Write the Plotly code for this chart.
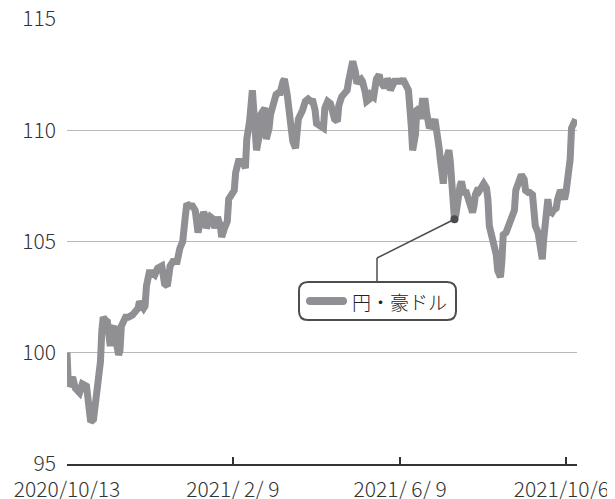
import plotly.graph_objects as go

# ---- data ----
dates = [
    "2020-10-13", "2020-10-14", "2020-10-15", "2020-10-17", "2020-10-19", "2020-10-22", "2020-10-24", "2020-10-27", "2020-10-29", "2020-10-30",
    "2020-11-01", "2020-11-02", "2020-11-04", "2020-11-05", "2020-11-06", "2020-11-07", "2020-11-08", "2020-11-09", "2020-11-11", "2020-11-12",
    "2020-11-13", "2020-11-14", "2020-11-16", "2020-11-17", "2020-11-19", "2020-11-20", "2020-11-21", "2020-11-24", "2020-11-26", "2020-11-29",
    "2020-12-01", "2020-12-03", "2020-12-04", "2020-12-07", "2020-12-08", "2020-12-09", "2020-12-11", "2020-12-13", "2020-12-15", "2020-12-17",
    "2020-12-20", "2020-12-22", "2020-12-24", "2020-12-26", "2020-12-28", "2020-12-31",
    "2021-01-02", "2021-01-04", "2021-01-06", "2021-01-07", "2021-01-09", "2021-01-11", "2021-01-13", "2021-01-15", "2021-01-17", "2021-01-19",
    "2021-01-20", "2021-01-21", "2021-01-24", "2021-01-26", "2021-01-27", "2021-01-29", "2021-01-31",
    "2021-02-01", "2021-02-03", "2021-02-05", "2021-02-06", "2021-02-08", "2021-02-10", "2021-02-11", "2021-02-13", "2021-02-15", "2021-02-16",
    "2021-02-18", "2021-02-19", "2021-02-21", "2021-02-22", "2021-02-23", "2021-02-25", "2021-02-26", "2021-02-28",
    "2021-03-01", "2021-03-03", "2021-03-04", "2021-03-05", "2021-03-07", "2021-03-08", "2021-03-10", "2021-03-12", "2021-03-14", "2021-03-15",
    "2021-03-17", "2021-03-18", "2021-03-20", "2021-03-21", "2021-03-23", "2021-03-24", "2021-03-26", "2021-03-27", "2021-03-28", "2021-03-31",
    "2021-04-02", "2021-04-04", "2021-04-06", "2021-04-07", "2021-04-09", "2021-04-10", "2021-04-12", "2021-04-15", "2021-04-16", "2021-04-18",
    "2021-04-20", "2021-04-21", "2021-04-23", "2021-04-25", "2021-04-26", "2021-04-28", "2021-04-30",
    "2021-05-02", "2021-05-03", "2021-05-05", "2021-05-06", "2021-05-08", "2021-05-09", "2021-05-10", "2021-05-12", "2021-05-13", "2021-05-15",
    "2021-05-16", "2021-05-18", "2021-05-19", "2021-05-21", "2021-05-22", "2021-05-23", "2021-05-25", "2021-05-26", "2021-05-28", "2021-05-29", "2021-05-31",
    "2021-06-01", "2021-06-02", "2021-06-04", "2021-06-05", "2021-06-07", "2021-06-08", "2021-06-10", "2021-06-11", "2021-06-12", "2021-06-14",
    "2021-06-15", "2021-06-17", "2021-06-18", "2021-06-20", "2021-06-21", "2021-06-23", "2021-06-24", "2021-06-25", "2021-06-27", "2021-06-28", "2021-06-30",
    "2021-07-01", "2021-07-03", "2021-07-04", "2021-07-05", "2021-07-07", "2021-07-08", "2021-07-10", "2021-07-11", "2021-07-13", "2021-07-14",
    "2021-07-15", "2021-07-16", "2021-07-17", "2021-07-18", "2021-07-19", "2021-07-20", "2021-07-22", "2021-07-23", "2021-07-25", "2021-07-26",
    "2021-07-28", "2021-07-29", "2021-07-31",
    "2021-08-01", "2021-08-02", "2021-08-04", "2021-08-05", "2021-08-07", "2021-08-08", "2021-08-10", "2021-08-11", "2021-08-12", "2021-08-14",
    "2021-08-15", "2021-08-17", "2021-08-18", "2021-08-20", "2021-08-21", "2021-08-22", "2021-08-24", "2021-08-25", "2021-08-27", "2021-08-28",
    "2021-08-30", "2021-08-31",
    "2021-09-02", "2021-09-03", "2021-09-04", "2021-09-06", "2021-09-07", "2021-09-09", "2021-09-10", "2021-09-12", "2021-09-13", "2021-09-14",
    "2021-09-16", "2021-09-17", "2021-09-19", "2021-09-20", "2021-09-22", "2021-09-23", "2021-09-24", "2021-09-26", "2021-09-27", "2021-09-29", "2021-09-30",
    "2021-10-02", "2021-10-03", "2021-10-05", "2021-10-06", "2021-10-07", "2021-10-09", "2021-10-10", "2021-10-12", "2021-10-13",
]

values = [
    # Oct 2020
    100.0, 98.5, 98.6, 98.9, 98.4, 98.2, 98.6, 98.5, 97.6, 96.9,
    # Nov
    97.0, 97.6, 98.5, 99.4, 99.6, 101.0, 101.6, 101.5, 101.4, 100.6,
    100.3, 101.0, 101.2, 100.6, 99.9, 100.1, 101.2, 101.6, 101.6, 101.7,
    # Dec
    101.8, 102.0, 102.3, 102.0, 102.1, 103.0, 103.6, 103.6, 103.5, 103.8,
    103.9, 103.1, 103.0, 103.9, 104.1, 104.1,
    # Jan 2021
    104.7, 105.0, 106.2, 106.7, 106.6, 106.6, 106.4, 105.4, 106.0, 106.3,
    106.2, 105.6, 106.1, 106.0, 105.6, 106.1, 105.7,
    # Feb
    105.2, 105.6, 105.9, 106.9, 107.2, 107.3, 108.1, 108.6, 108.6, 108.6,
    108.3, 109.6, 110.4, 111.3, 111.8, 110.0, 109.1, 109.8,
    # Mar
    110.7, 110.9, 111.0, 109.6, 110.1, 110.7, 111.1, 111.6, 111.7, 111.7,
    112.2, 112.3, 111.6, 111.1, 110.4, 109.5, 109.2, 110.1, 110.5, 110.9,
    # Apr
    111.3, 111.4, 111.3, 111.4, 110.9, 110.3, 110.2, 110.1, 111.0, 111.3,
    111.2, 111.0, 110.5, 110.4, 111.1, 111.5, 111.7,
    # May
    111.8, 112.2, 112.9, 113.1, 112.6, 112.1, 112.2, 112.3, 112.2, 111.7,
    111.3, 111.4, 111.6, 111.5, 111.9, 112.3, 112.5, 112.2, 112.0, 112.0, 112.3,
    # Jun
    112.2, 111.8, 112.1, 112.2, 112.2, 112.2, 112.2, 112.3, 112.2, 112.0,
    111.8, 110.2, 109.1, 109.8, 110.9, 111.0, 110.5, 111.3, 111.3, 110.8, 110.1,
    # Jul
    110.2, 110.3, 110.5, 109.8, 109.2, 108.6, 107.6, 108.4, 109.0, 109.1,
    108.6, 107.8, 106.6, 106.0, 106.2, 106.9, 107.5, 107.7, 107.1, 107.3,
    106.9, 106.6, 106.3,
    # Aug
    106.6, 107.1, 107.4, 107.3, 107.5, 107.6, 107.4, 106.9, 105.7, 105.1,
    105.0, 104.4, 103.7, 103.4, 104.1, 105.3, 105.4, 105.6, 105.9, 106.1,
    106.4, 107.3,
    # Sep
    107.7, 107.9, 108.0, 107.8, 107.3, 107.2, 107.2, 107.1, 106.4, 105.7,
    105.4, 104.8, 104.2, 105.1, 106.4, 106.9, 106.4, 106.3, 106.4, 106.5, 106.9,
    # Oct 2021
    107.3, 107.2, 106.9, 107.2, 107.8, 108.7, 110.1, 110.5, 110.5,
]
assert len(dates) == len(values)

series_name = "円・豪ドル"
y_ticks = [95, 100, 105, 110, 115]
x_tick_dates = ["2020-10-13", "2021-02-09", "2021-06-09", "2021-10-06"]
x_tick_labels = ["2020/10/13", "2021/\u00a02/\u00a09", "2021/\u00a06/\u00a09", "2021/10/6\u00a0\u00a0"]
callout_date = "2021-07-18"

# ---- layout geometry (page pixels; the page body adds an 8px offset) ----
OFF = 8
W, H = 615 - OFF, 499 - OFF
PLOT_L, PLOT_R, PLOT_T, PLOT_B = 67, 577, 19, 464
ML, MT = PLOT_L - OFF, PLOT_T - OFF
PW, PH = PLOT_R - PLOT_L, PLOT_B - PLOT_T
MR, MB = W - ML - PW, H - MT - PH


def px(x):
    return (x - PLOT_L) / PW


def py(y):
    return (PLOT_B - y) / PH


LINE_COLOR = "#8f8f94"
DARK = "#4d4d4d"
FONT = "Noto Sans CJK JP Light, Noto Sans CJK JP DemiLight, Noto Sans CJK JP"

fig = go.Figure()
fig.add_trace(go.Scatter(
    x=dates, y=values, mode="lines",
    line=dict(color=LINE_COLOR, width=7),
    name=series_name, showlegend=False, hoverinfo="skip",
))

ci = dates.index(callout_date)
fig.add_trace(go.Scatter(
    x=[dates[ci]], y=[values[ci]], mode="markers",
    marker=dict(color=DARK, size=8), showlegend=False, hoverinfo="skip",
))

shapes = []
bend_x, bend_y, box_top = 377, 258, 282
shapes.append(dict(type="line", xref="x", yref="y",
                   x0=dates[ci], y0=values[ci],
                   x1="2021-05-23 10:00", y1=95 + (PLOT_B - bend_y) / (PH / 20),
                   line=dict(color=DARK, width=1.5)))
shapes.append(dict(type="line", xref="paper", yref="paper",
                   x0=px(bend_x), y0=py(bend_y), x1=px(bend_x), y1=py(box_top),
                   line=dict(color=DARK, width=1.5)))


def rounded_rect(x0, y0, x1, y1, r):
    rx, ry = r / PW, r / PH
    X0, X1 = px(x0), px(x1)
    Yt, Yb = py(y0), py(y1)
    return (f"M {X0+rx},{Yt} L {X1-rx},{Yt} Q {X1},{Yt} {X1},{Yt-ry} "
            f"L {X1},{Yb+ry} Q {X1},{Yb} {X1-rx},{Yb} "
            f"L {X0+rx},{Yb} Q {X0},{Yb} {X0},{Yb+ry} "
            f"L {X0},{Yt-ry} Q {X0},{Yt} {X0+rx},{Yt} Z")


shapes.append(dict(type="path", xref="paper", yref="paper",
                   path=rounded_rect(299, 282, 456, 320, 9),
                   line=dict(color=DARK, width=2), fillcolor="white"))
shapes.append(dict(type="path", xref="paper", yref="paper",
                   path=rounded_rect(306, 297, 347, 305, 4),
                   line=dict(color=LINE_COLOR, width=0), fillcolor=LINE_COLOR))

fig.update_layout(
    width=W, height=H,
    margin=dict(l=ML, r=MR, t=MT, b=MB),
    paper_bgcolor="white", plot_bgcolor="white",
    font=dict(family=FONT, color="#333333"),
    shapes=shapes,
    annotations=[dict(
        xref="paper", yref="paper", x=px(351), y=py(301),
        xanchor="left", yanchor="middle", showarrow=False,
        text=series_name, font=dict(family=FONT, size=19, color="#222222"),
        borderpad=0,
    )],
    xaxis=dict(
        type="date",
        range=["2020-10-13", "2021-10-13 22:00"],
        tickvals=x_tick_dates, ticktext=x_tick_labels,
        showgrid=False, zeroline=False,
        showline=True, linecolor="#333333", linewidth=2,
        ticks="inside", ticklen=7, tickwidth=2, tickcolor="#333333",
        ticklabelstandoff=6, ticklabeloverflow="allow",
        tickfont=dict(family=FONT, size=21, color="#333333", weight=300),
        automargin=False,
    ),
    yaxis=dict(
        range=[95, 115],
        tickvals=y_ticks, ticktext=[str(v) for v in y_ticks],
        showgrid=True, gridcolor="#b8b8b8", gridwidth=1,
        zeroline=False, showline=False, ticks="",
        ticklabelstandoff=10, ticklabeloverflow="allow",
        tickfont=dict(family=FONT, size=21, color="#333333", weight=300),
        automargin=False,
    ),
)

fig.write_html("out.html")
